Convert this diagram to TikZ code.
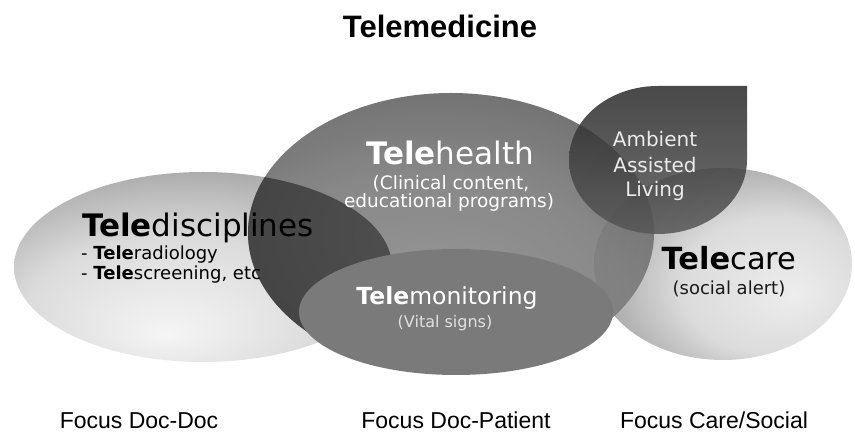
\documentclass[tikz,border=0pt]{standalone}
\usepackage{fontspec}
\setmainfont{DejaVu Sans}
\newfontfamily\headfont{Liberation Sans}
\usepackage{tikz}
\usetikzlibrary{calc}
\pgfdeclareradialshading{discshade}{\pgfpoint{-5bp}{-18bp}}{color(0bp)=(black!4); color(20bp)=(black!14); color(42bp)=(black!44); color(62bp)=(black!57)}
\pgfdeclareradialshading{healthshade}{\pgfpoint{-4bp}{-22bp}}{color(0bp)=(black!42); color(25bp)=(black!52); color(50bp)=(black!72); color(70bp)=(black!82)}
\pgfdeclareradialshading{overlapshade}{\pgfpoint{0bp}{0bp}}{color(0bp)=(black!68); color(40bp)=(black!76); color(70bp)=(black!86)}
\pgfdeclareradialshading{careshade}{\pgfpoint{14bp}{-8bp}}{color(0bp)=(black!7); color(18bp)=(black!14); color(40bp)=(black!47); color(62bp)=(black!64)}
\newcommand\tele{\textbf{Tele}}
\newcommand\px[1]{\fontsize{#1}{#1}\selectfont}

\begin{document}
\begin{tikzpicture}[x=1pt,y=1pt,
  lbl/.style={anchor=base,inner sep=0pt},
  lblw/.style={anchor=base west,inner sep=0pt},
  focus/.style={lbl,font=\headfont\px{23}}]
\useasboundingbox (0,0) rectangle (855,436);
\coordinate (disc) at (203,169);
\coordinate (health) at (451,203);
\coordinate (monitor) at (456,124);
\coordinate (care) at (723,172);
\coordinate (aal) at (658,276);

\shade[shading=discshade] (disc) ellipse [x radius=189, y radius=95];
\shade[shading=careshade] (care) ellipse [x radius=129, y radius=96];
\shade[shading=healthshade,fill opacity=0.9] (health) ellipse [x radius=203, y radius=140];
\begin{scope}
\clip (disc) ellipse [x radius=189, y radius=95];
\shade[shading=overlapshade] (health) ellipse [x radius=203, y radius=140];
\end{scope}
\fill[black!52] (monitor) ellipse [x radius=157, y radius=63];
\shade[top color=black!84,bottom color=black!66,fill opacity=0.85]
  (747,350) -- (747,276) arc [start angle=0, end angle=-270, x radius=89, y radius=74] -- cycle;

\node[lbl,font=\headfont\bfseries\px{31}] (title) at (440,398) {Telemedicine};

\node[lblw,font=\px{31}] (disctitle) at (82,199) {\tele disciplines};
\node[lblw,font=\px{18}] (radio) at (81,176) {- \tele radiology};
\node[lblw,font=\px{18}] (screen) at (81,156) {- \tele screening, etc};

\node[lbl,font=\px{31},text=white] (healthtitle) at (450,271) {\tele health};
\node[lbl,font=\px{18.5},text=white] (clinical) at (451,246) {(Clinical content,};
\node[lbl,font=\px{18.5},text=white] (edu) at (449,228) {educational programs)};

\node[lbl,font=\px{20},text=black!8] (ambient) at (655,289) {Ambient};
\node[lbl,font=\px{20},text=black!8] (assisted) at (655,263) {Assisted};
\node[lbl,font=\px{20},text=black!8] (living) at (655,239) {Living};

\node[lbl,font=\px{30.5}] (caretitle) at (729,166) {\tele care};
\node[lbl,font=\px{18},text=black!90] (alert) at (729,141) {(social alert)};

\node[lbl,font=\px{23.5},text=white] (montitle) at (447,131) {\tele monitoring};
\node[lbl,font=\px{16},text=black!12] (vital) at (445,108) {(Vital signs)};

\node[focus] (docdoc) at (139,7) {Focus Doc-Doc};
\node[focus] (docpat) at (456,7) {Focus Doc-Patient};
\node[focus] (social) at (714,7) {Focus Care/Social};
\end{tikzpicture}
\end{document}
